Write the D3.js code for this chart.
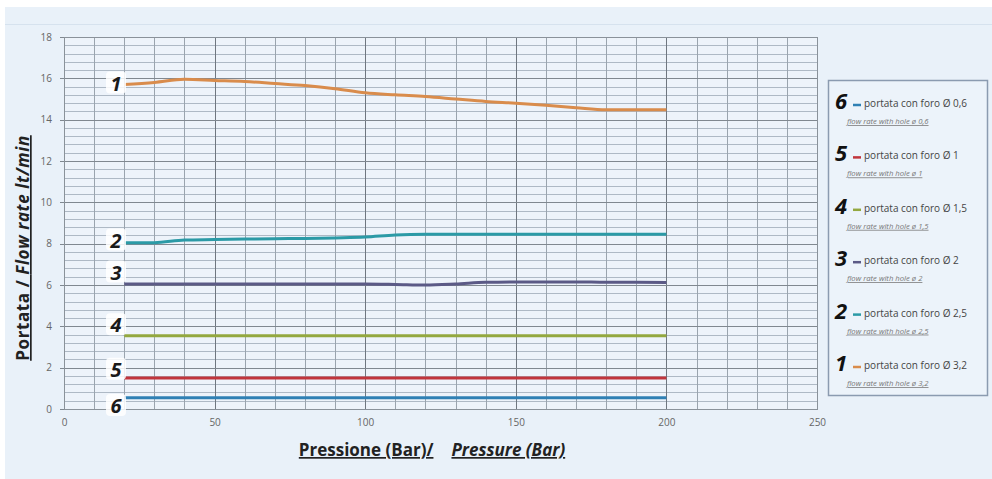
<!DOCTYPE html>
<html><head><meta charset="utf-8">
<script src="https://cdn.jsdelivr.net/npm/d3@7"></script>
<style>
body{margin:0;background:#fff;}
svg{display:block;font-family:"Open Sans","Liberation Sans",Arial,sans-serif;}
</style></head>
<body><svg id="c" width="992" height="479"></svg>
<script>
const pressure = [20,30,40,50,60,70,80,90,100,110,120,130,140,150,160,170,180,190,200];
const s1 = [15.7,15.8,15.95,15.9,15.85,15.75,15.65,15.5,15.3,15.2,15.12,15.0,14.88,14.8,14.7,14.58,14.48,14.48,14.48];
const s2 = [8.05,8.05,8.18,8.2,8.22,8.24,8.25,8.28,8.32,8.42,8.45,8.45,8.45,8.45,8.45,8.45,8.45,8.45,8.45];
const s3 = [6.05,6.05,6.05,6.05,6.05,6.05,6.05,6.05,6.05,6.03,6.0,6.05,6.13,6.15,6.15,6.15,6.13,6.13,6.12];
const s4 = [3.55,3.55,3.55,3.55,3.55,3.55,3.55,3.55,3.55,3.55,3.55,3.55,3.55,3.55,3.55,3.55,3.55,3.55,3.55];
const s5 = [1.5,1.5,1.5,1.5,1.5,1.5,1.5,1.5,1.5,1.5,1.5,1.5,1.5,1.5,1.5,1.5,1.5,1.5,1.5];
const s6 = [0.55,0.55,0.55,0.55,0.55,0.55,0.55,0.55,0.55,0.55,0.55,0.55,0.55,0.55,0.55,0.55,0.55,0.55,0.55];
const seriesNames = ["1","2","3","4","5","6"];
const seriesColors = ["#d98c4c","#2b9aa6","#5b5a86","#93a83f","#c1353c","#2f80b4"];
const holes = ["3,2","2,5","2","1,5","1","0,6"];
const xTicks = [0,50,100,150,200,250];
const yTicks = [0,2,4,6,8,10,12,14,16,18];
const xTitleA = "Pressione (Bar)/", xTitleB = "Pressure (Bar)";
const yTitleA = "Portata / ", yTitleB = "Flow rate lt/min";

const allSeries = [s1,s2,s3,s4,s5,s6];
const svg = d3.select("#c");
svg.append("rect").attr("x",5).attr("y",7).attr("width",987).attr("height",472).attr("fill","#e9f1f9");
svg.append("line").attr("x1",5).attr("x2",992).attr("y1",24.5).attr("y2",24.5).attr("stroke","#d6e2ee");

const x = d3.scaleLinear().domain([0,250]).range([64,817]);
const y = d3.scaleLinear().domain([0,18]).range([409,37]);

const g = svg.append("g");
g.append("rect").attr("x",x(0)).attr("y",y(18)).attr("width",x(250)-x(0)).attr("height",y(0)-y(18)).attr("fill","#edf3fa");
const minor = d3.range(0,18.01,0.4);
g.selectAll(".hm").data(minor).join("line")
  .attr("x1",x(0)).attr("x2",x(250)).attr("y1",d=>Math.round(y(d))+0.5).attr("y2",d=>Math.round(y(d))+0.5)
  .attr("stroke","#aeb9c5").attr("stroke-width",1);
const vg = d3.range(0,251,10);
g.selectAll(".vg").data(vg).join("line")
  .attr("y1",y(0)).attr("y2",y(18)).attr("x1",d=>Math.round(x(d))+0.5).attr("x2",d=>Math.round(x(d))+0.5)
  .attr("stroke",d=>d%50===0?"#6f7780":"#9aa4ae").attr("stroke-width",1);
g.selectAll(".hM").data(yTicks).join("line")
  .attr("x1",x(0)-4).attr("x2",x(250)).attr("y1",d=>Math.round(y(d))+0.5).attr("y2",d=>Math.round(y(d))+0.5)
  .attr("stroke","#808890").attr("stroke-width",1);
const yAxis = d3.axisLeft(y).tickValues(yTicks).tickSize(0).tickPadding(12);
const ya = svg.append("g").attr("transform",`translate(${x(0)},0)`).call(yAxis);
ya.select(".domain").remove();
ya.selectAll("text").attr("fill","#666").style("font-size","10px").style("font-family","'Open Sans',Arial,sans-serif");
const xAxis = d3.axisBottom(x).tickValues(xTicks).tickSize(0).tickPadding(10);
const xa = svg.append("g").attr("transform",`translate(0,${y(0)})`).call(xAxis);
xa.select(".domain").remove();
xa.selectAll("text").attr("fill","#666").style("font-size","10px").style("font-family","'Open Sans',Arial,sans-serif");

const line = d3.line().x((d,i)=>x(pressure[i])).y(d=>y(d)).curve(d3.curveMonotoneX);
allSeries.forEach((s,k)=>{
  g.append("path").datum(s).attr("d",line).attr("fill","none")
   .attr("stroke",seriesColors[k]).attr("stroke-width",3);
});
const labelOffset = [0.05,0.1,0.55,0.5,0.4,-0.4];
allSeries.forEach((s,k)=>{
  const ty = y(s[0]+labelOffset[k]);
  svg.append("rect").attr("x",106).attr("y",ty-12).attr("width",20).attr("height",22).attr("fill","#ffffff").attr("opacity",0.85).attr("rx",4);
  svg.append("text").attr("x",116).attr("y",ty+7).attr("text-anchor","middle")
    .attr("font-size","20px").attr("font-weight","bold").attr("font-style","italic")
    .attr("fill","#1a1a1a").text(seriesNames[k]);
});
g.append("rect").attr("x",x(0)+0.5).attr("y",y(18)+0.5).attr("width",x(250)-x(0)).attr("height",y(0)-y(18))
  .attr("fill","none").attr("stroke","#8a929a");

const xt = svg.append("text").attr("x",432).attr("y",456).attr("text-anchor","middle")
  .attr("font-size","17px").attr("font-weight","bold").attr("fill","#222").attr("text-decoration","underline");
xt.append("tspan").text(xTitleA);
xt.append("tspan").attr("font-style","italic").attr("dx",18).text(xTitleB);
const yt = svg.append("text").attr("transform","translate(29,248) rotate(-90)").attr("text-anchor","middle")
  .attr("font-size","17px").attr("font-weight","bold").attr("fill","#222").attr("text-decoration","underline")
  .attr("letter-spacing","0.6px");
yt.append("tspan").text(yTitleA);
yt.append("tspan").attr("font-style","italic").text(yTitleB);

svg.append("rect").attr("x",828.5).attr("y",80.5).attr("width",159).attr("height",315)
  .attr("fill","#ecf3fa").attr("stroke","#8b9bb0").attr("stroke-width",1.5);
const order = [5,4,3,2,1,0];
order.forEach((k,i)=>{
  const by = 102 + i*52.4;
  svg.append("text").attr("x",835).attr("y",by+7).attr("font-size","22px").attr("font-weight","bold")
    .attr("font-style","italic").attr("fill","#111").text(seriesNames[k]);
  svg.append("line").attr("x1",853).attr("x2",861).attr("y1",by+3).attr("y2",by+3)
    .attr("stroke",seriesColors[k]).attr("stroke-width",2.5);
  svg.append("text").attr("x",864).attr("y",by+5).attr("font-size","10px").attr("fill","#444")
    .text("portata con foro Ø " + holes[k]);
  svg.append("text").attr("x",847).attr("y",by+22).attr("font-size","7.7px").attr("font-style","italic")
    .attr("fill","#777").attr("text-decoration","underline").text("flow rate with hole ø " + holes[k]);
});
</script></body></html>
